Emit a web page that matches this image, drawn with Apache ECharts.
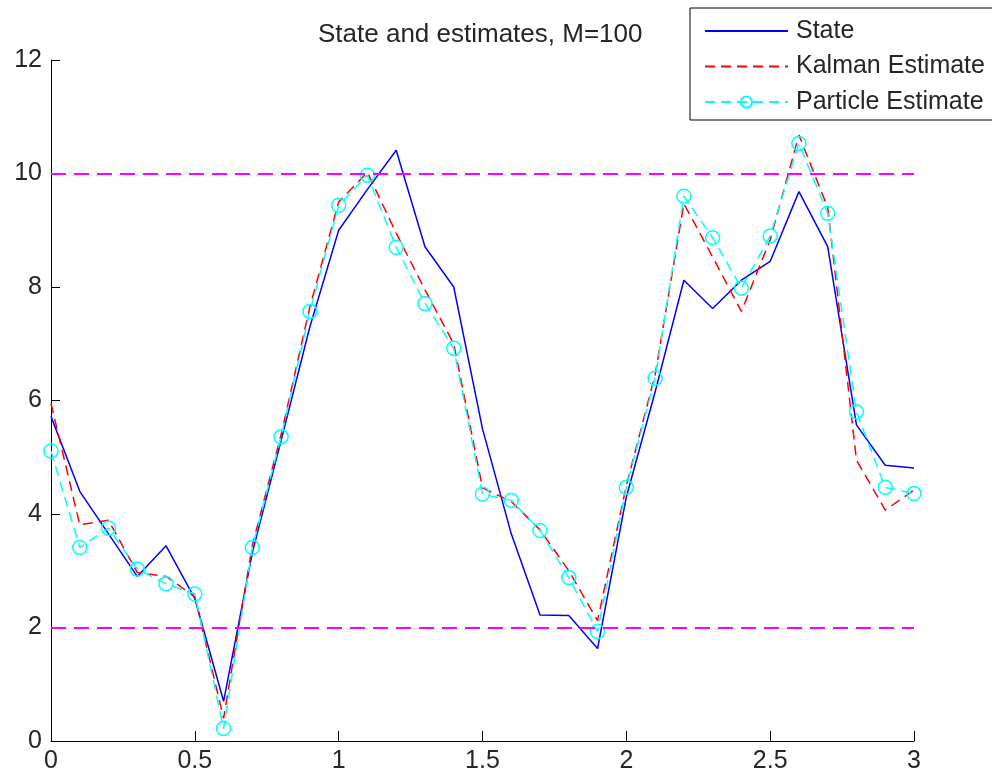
<!DOCTYPE html>
<html>
<head>
<meta charset="utf-8">
<script src="https://cdn.jsdelivr.net/npm/echarts@6/dist/echarts.min.js"></script>
<style>html,body{margin:0;padding:0;background:#fff;}#c{width:992px;height:777px;}</style>
</head>
<body>
<div id="c"></div>
<script>
const t = [0, 0.1, 0.2, 0.3, 0.4, 0.5, 0.6, 0.7, 0.8, 0.9, 1.0, 1.1, 1.2, 1.3, 1.4, 1.5, 1.6, 1.7, 1.8, 1.9, 2.0, 2.1, 2.2, 2.3, 2.4, 2.5, 2.6, 2.7, 2.8, 2.9, 3.0];
const stateVals = [5.72, 4.40, 3.65, 2.90, 3.44, 2.51, 0.70, 3.32, 5.30, 7.30, 9.00, 9.72, 10.41, 8.71, 8.00, 5.50, 3.65, 2.22, 2.21, 1.63, 4.30, 6.15, 8.12, 7.62, 8.12, 8.45, 9.68, 8.71, 5.57, 4.86, 4.81];
const kalmanVals = [5.95, 3.81, 3.89, 2.97, 2.90, 2.54, 0.40, 3.45, 5.40, 7.65, 9.50, 10.02, 8.95, 7.95, 7.00, 4.46, 4.22, 3.72, 3.00, 2.12, 4.50, 6.45, 9.47, 8.53, 7.57, 8.83, 10.68, 9.40, 4.95, 4.07, 4.42];
const particleVals = [5.11, 3.41, 3.75, 3.03, 2.77, 2.59, 0.22, 3.41, 5.36, 7.57, 9.44, 9.97, 8.70, 7.71, 6.92, 4.35, 4.24, 3.71, 2.88, 1.93, 4.47, 6.39, 9.60, 8.87, 7.98, 8.90, 10.53, 9.30, 5.80, 4.47, 4.36];
const refLevels = [10, 2];
const seriesNames = ['State', 'Kalman Estimate', 'Particle Estimate'];
const titleText = 'State and estimates, M=100';

const pair = (vals) => t.map((x, i) => [x, vals[i]]);
const FONT = '"Liberation Sans", Arial, Helvetica, sans-serif';
const TXT = '#262626';

const chart = echarts.init(document.getElementById('c'), null, {renderer: 'canvas'});
chart.setOption({
  animation: false,
  backgroundColor: '#fff',
  title: {
    text: titleText,
    left: 313,
    top: 17,
    textStyle: {fontFamily: FONT, fontSize: 26, fontWeight: 'normal', color: TXT}
  },
  legend: {
    orient: 'vertical',
    left: 690,
    top: 8,
    padding: [10, 12, 5, 14],
    itemGap: 9.5,
    itemWidth: 83,
    itemHeight: 14,
    borderColor: '#000',
    borderWidth: 1,
    backgroundColor: '#fff',
    data: [
      {name: seriesNames[0], itemStyle: {opacity: 0}},
      {name: seriesNames[1], itemStyle: {opacity: 0}},
      {name: seriesNames[2]}
    ],
    textStyle: {fontFamily: FONT, fontSize: 25, color: TXT, lineHeight: 26, padding: [0, 0, 0, 3]}
  },
  grid: {left: 51, right: 78, top: 60, bottom: 36, containLabel: false},
  xAxis: {
    type: 'value', min: 0, max: 3, interval: 0.5,
    axisLine: {show: true, onZero: false, lineStyle: {color: '#000', width: 1}},
    axisTick: {show: true, inside: true, length: 10, lineStyle: {color: '#000'}},
    axisLabel: {margin: 8, fontFamily: FONT, fontSize: 25, color: TXT},
    splitLine: {show: false}
  },
  yAxis: {
    type: 'value', min: 0, max: 12, interval: 2,
    axisLine: {show: true, onZero: false, lineStyle: {color: '#000', width: 1}},
    axisTick: {show: true, inside: true, length: 9, lineStyle: {color: '#000'}},
    axisLabel: {margin: 9, fontFamily: FONT, fontSize: 25, color: TXT},
    splitLine: {show: false}
  },
  series: [
    {
      name: seriesNames[0], type: 'line', data: pair(stateVals),
      symbol: 'none', lineStyle: {color: '#0000ff', width: 1.5}, itemStyle: {color: '#0000ff'},
      markLine: {
        silent: true, symbol: 'none', label: {show: false},
        lineStyle: {color: '#ff00ff', width: 2, type: [15, 8]},
        data: refLevels.map(v => ({yAxis: v}))
      }
    },
    {
      name: seriesNames[1], type: 'line', data: pair(kalmanVals),
      symbol: 'none', lineStyle: {color: '#ff0000', width: 1.5, type: [10, 6]}, itemStyle: {color: '#ff0000'}
    },
    {
      name: seriesNames[2], type: 'line', data: pair(particleVals),
      symbol: 'circle', symbolSize: 14,
      lineStyle: {color: '#00ffff', width: 1.5, type: [10, 6]},
      itemStyle: {color: 'rgba(0,0,0,0)', borderColor: '#00ffff', borderWidth: 1.5}
    }
  ]
});
</script>
</body>
</html>
